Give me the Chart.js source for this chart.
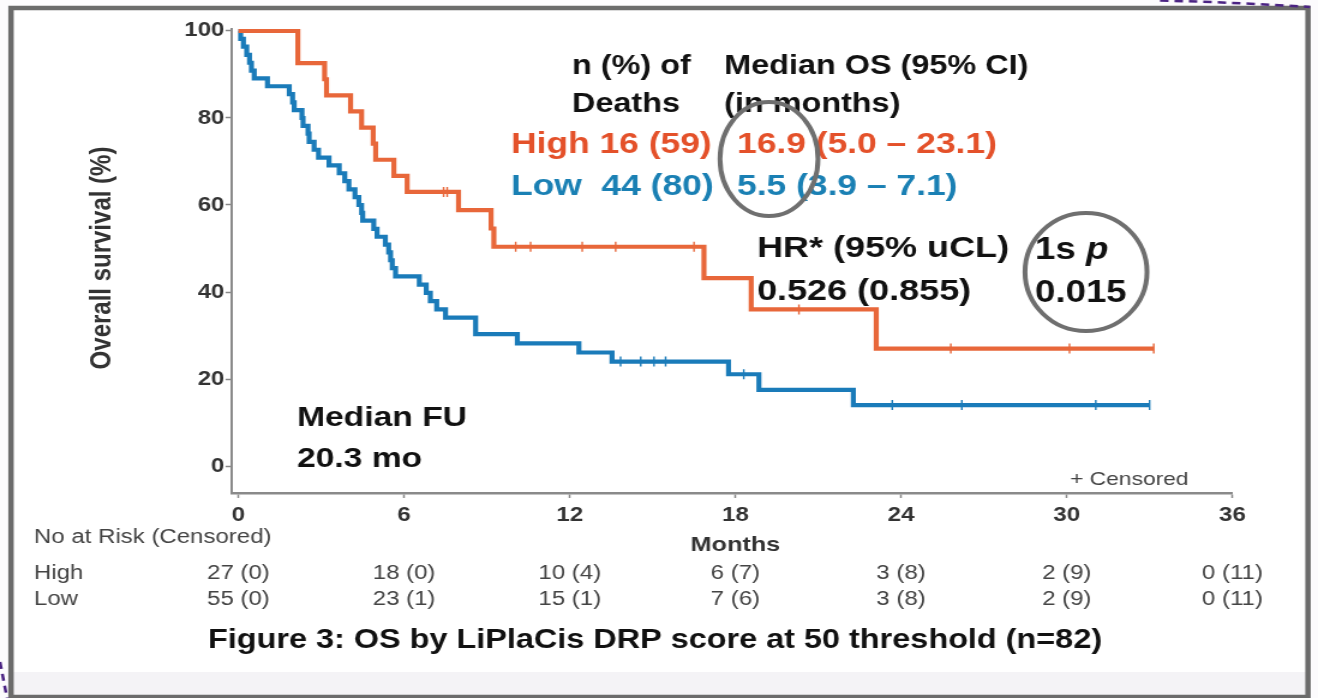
<!DOCTYPE html>
<html><head><meta charset="utf-8">
<script src="https://cdn.jsdelivr.net/npm/chart.js@4.4.0/dist/chart.umd.min.js"></script>
<style>
html,body{margin:0;padding:0;background:#fff;overflow:hidden;width:1318px;height:698px;}
#wrap{position:absolute;left:0;top:0;width:1098px;height:698px;transform-origin:0 0;transform:scaleX(1.200364);}
</style></head><body>
<div id="wrap"><canvas id="c"></canvas></div>
<script>
// ---- data ----
const xTickValues = [0, 6, 12, 18, 24, 30, 36];
const yTickValues = [0, 20, 40, 60, 80, 100];

const highTimes = [0, 2.15, 3.12, 3.19, 4.06, 4.46, 4.88, 4.97, 5.63, 6.11, 7.97, 9.15, 9.25, 16.86, 18.57, 23.10, 33.15];
const highSurv  = [100, 92.6, 88.9, 85.2, 81.5, 77.8, 74.1, 70.4, 66.7, 63.0, 58.8, 54.6, 50.4, 43.2, 36.0, 27.0, 27.0];
const highCensorTimes = [7.43, 7.56, 10.04, 10.58, 12.45, 13.66, 16.50, 20.3, 25.8, 30.1, 33.15];

const lowTimes = [0, 0.08, 0.18, 0.30, 0.40, 0.47, 0.57, 1.05, 1.84, 1.96, 2.02, 2.30, 2.34, 2.52, 2.56, 2.74, 2.90, 3.28, 3.65, 3.85, 4.00, 4.22, 4.36, 4.46, 4.50, 4.90, 5.02, 5.32, 5.44, 5.51, 5.57, 5.69, 6.55, 6.80, 6.95, 7.18, 7.50, 8.59, 10.10, 12.33, 13.53, 17.75, 18.85, 22.27, 33.0];
const lowSurv  = [100, 98.2, 96.4, 94.5, 92.7, 90.9, 89.1, 87.3, 85.5, 83.6, 81.8, 80.0, 78.2, 76.4, 74.5, 72.7, 70.9, 69.1, 67.3, 65.5, 63.6, 61.8, 60.0, 58.2, 56.4, 54.5, 52.7, 50.9, 49.1, 47.3, 45.5, 43.6, 41.7, 39.8, 37.9, 36.0, 34.1, 30.3, 28.2, 26.1, 24.0, 21.1, 17.5, 14.0, 14.0];
const lowCensorTimes = [13.84, 14.57, 15.05, 15.47, 18.30, 23.68, 26.2, 31.05, 33.0];

const riskTimes = [0, 6, 12, 18, 24, 30, 36];
const highAtRisk = [27, 18, 10, 6, 3, 2, 0];
const highCensored = [0, 0, 4, 7, 8, 9, 11];
const lowAtRisk = [55, 23, 15, 7, 3, 2, 0];
const lowCensored = [0, 1, 1, 6, 8, 9, 11];

// ---- styling ----
const SX = 1318 / 1098;
const ox = v => v / SX;
const F = '"Liberation Sans", Arial, Helvetica, sans-serif';
const HIGH_LINE = '#e8673a', HIGH_TEXT = '#e4512a';
const LOW_LINE = '#1a7bb9', LOW_TEXT = '#1a80b4';

function survAt(times, surv, t) {
  let s = surv[0];
  for (let i = 0; i < times.length; i++) if (times[i] <= t) s = surv[i];
  return s;
}
const pts = (t, s) => t.map((v, i) => ({x: v, y: s[i]}));
const cens = (ct, t, s) => ct.map(v => ({x: v, y: survAt(t, s, v)}));

const deco = {
  id: 'deco',
  beforeDraw(chart) {
    const ctx = chart.ctx, W = chart.width, H = chart.height;
    ctx.save();
    ctx.fillStyle = '#fcfbfd'; ctx.fillRect(0, 0, W, H);
    ctx.fillStyle = '#ffffff'; ctx.fillRect(ox(12), 8, ox(1296), 664);
    ctx.fillStyle = '#f4f3f6'; ctx.fillRect(ox(12), 672, ox(1296), 26);
    ctx.strokeStyle = '#6b6b6b'; ctx.lineWidth = 4.5;
    ctx.strokeRect(ox(11), 8, ox(1297), 689);
    ctx.strokeStyle = '#4b2383'; ctx.lineWidth = 2.5; ctx.setLineDash([7, 5]);
    ctx.beginPath(); ctx.moveTo(ox(1160), 0.5); ctx.quadraticCurveTo(ox(1240), 2.5, ox(1310), 7); ctx.stroke();
    ctx.beginPath(); ctx.moveTo(ox(0), 662); ctx.lineTo(ox(7), 698); ctx.stroke();
    ctx.restore();
  },
  afterDraw(chart) {
    const ctx = chart.ctx, xs = chart.scales.x;
    ctx.save();
    const txt = (s, x, y, size, color, weight = 'bold', align = 'left') => {
      ctx.font = `${weight} ${size}px ${F}`; ctx.fillStyle = color;
      ctx.textAlign = align; ctx.textBaseline = 'alphabetic';
      ctx.fillText(s, x, y);
    };
    // header block
    txt('n (%) of', ox(572), 74, 27, '#111');
    txt('Deaths', ox(572), 112, 27, '#111');
    txt('Median OS (95% CI)', ox(724), 74, 27, '#111');
    txt('(in months)', ox(724), 112, 27, '#111');
    txt('High 16 (59)', ox(511), 153, 29.5, HIGH_TEXT);
    txt('16.9 (5.0 \u2013 23.1)', ox(737), 153, 29.5, HIGH_TEXT);
    txt('Low  44 (80)', ox(511), 195, 29.5, LOW_TEXT);
    txt('5.5 (3.9 \u2013 7.1)', ox(737), 195, 29.5, LOW_TEXT);
    txt('HR* (95% uCL)', ox(757), 257, 30, '#111');
    txt('0.526 (0.855)', ox(757), 300, 30, '#111');
    txt('1s ', ox(1035), 259, 30.5, '#111');
    ctx.font = `bold 30.5px ${F}`;
    const w1 = ctx.measureText('1s ').width;
    txt('p', ox(1035) + w1, 259, 30.5, '#111', 'italic bold');
    txt('0.015', ox(1035), 302, 30.5, '#111');
    txt('Median FU', ox(297), 426, 28, '#111');
    txt('20.3 mo', ox(297), 467, 28, '#111');
    txt('+ Censored', ox(1070), 485, 19, '#444', 'normal');
    // ellipses
    ctx.strokeStyle = '#6f6f6f'; ctx.lineWidth = 4; ctx.setLineDash([]);
    ctx.beginPath(); ctx.ellipse(ox(769), 159, ox(49), 57, 0, 0, Math.PI * 2); ctx.stroke();
    ctx.beginPath(); ctx.ellipse(ox(1086), 272, ox(61), 59, 0, 0, Math.PI * 2); ctx.stroke();
    // y title
    ctx.save();
    ctx.translate(ox(103), 258); ctx.rotate(-Math.PI / 2);
    ctx.font = `bold 24px ${F}`; ctx.fillStyle = '#333'; ctx.textAlign = 'center'; ctx.textBaseline = 'middle';
    ctx.fillText('Overall survival (%)', 0, 0);
    ctx.restore();
    // x title
    txt('Months', xs.getPixelForValue(18), 551, 21, '#333', 'bold', 'center');
    // risk table
    txt('No at Risk (Censored)', ox(34), 543, 20, '#444', 'normal');
    txt('High', ox(34), 579, 20, '#444', 'normal');
    txt('Low', ox(34), 605, 20, '#444', 'normal');
    riskTimes.forEach((t, i) => {
      const px = xs.getPixelForValue(t);
      txt(`${highAtRisk[i]} (${highCensored[i]})`, px, 579, 20, '#444', 'normal', 'center');
      txt(`${lowAtRisk[i]} (${lowCensored[i]})`, px, 605, 20, '#444', 'normal', 'center');
    });
    // caption
    txt('Figure 3: OS by LiPlaCis DRP score at 50 threshold (n=82)', ox(655), 648, 27, '#111', 'bold', 'center');
    ctx.restore();
  }
};

const tickFont = {family: F, size: 20, weight: 'bold'};
new Chart(document.getElementById('c'), {
  type: 'scatter',
  data: {
    datasets: [
      {data: pts(highTimes, highSurv), showLine: true, stepped: 'before', borderColor: HIGH_LINE, borderWidth: 4.2, pointRadius: 0, fill: false},
      {data: pts(lowTimes, lowSurv), showLine: true, stepped: 'before', borderColor: LOW_LINE, borderWidth: 4.2, pointRadius: 0, fill: false},
      {data: cens(highCensorTimes, highTimes, highSurv), showLine: false, pointStyle: 'line', rotation: 90, pointRadius: 5, borderColor: HIGH_LINE, borderWidth: 1.4},
      {data: cens(lowCensorTimes, lowTimes, lowSurv), showLine: false, pointStyle: 'line', rotation: 90, pointRadius: 5, borderColor: LOW_LINE, borderWidth: 1.4}
    ]
  },
  options: {
    responsive: true, maintainAspectRatio: false, animation: false,
    layout: {padding: {top: 28.8, right: 71.3, left: 0, bottom: 0}},
    plugins: {legend: {display: false}, tooltip: {enabled: false}},
    scales: {
      x: {
        type: 'linear', min: -0.25, max: 36,
        afterBuildTicks: s => { s.ticks = xTickValues.map(v => ({value: v})); },
        afterFit: s => { s.height = 205; },
        ticks: {font: tickFont, color: '#333', padding: 5},
        grid: {drawOnChartArea: false, drawTicks: true, tickLength: 5, tickColor: '#888', tickWidth: 1.5},
        border: {display: true, color: '#8a8a8a', width: 2.5}
      },
      y: {
        type: 'linear', min: -6.2, max: 100.5,
        afterBuildTicks: s => { s.ticks = yTickValues.map(v => ({value: v})); },
        afterFit: s => { s.width = 192.9; },
        ticks: {font: tickFont, color: '#333', padding: 1},
        grid: {drawOnChartArea: false, drawTicks: true, tickLength: 5, tickColor: '#888', tickWidth: 1.5},
        border: {display: true, color: '#8a8a8a', width: 2}
      }
    }
  },
  plugins: [deco]
});
</script>
</body></html>
